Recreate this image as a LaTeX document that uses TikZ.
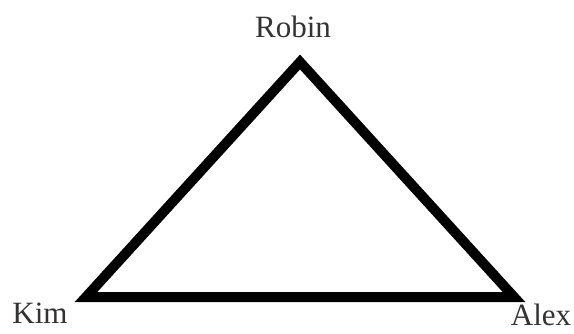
\documentclass[tikz,border=0pt]{standalone}
\usepackage{fontspec}
\setmainfont{Liberation Serif}
\definecolor{labelgray}{HTML}{333333}
\begin{document}
\begin{tikzpicture}[x=1pt,y=-1pt,
  lbl/.style={text=labelgray,font=\fontsize{31}{33}\selectfont,inner sep=0pt,anchor=base},
  edge/.style={line width=10pt,line join=miter,draw=black}]
\useasboundingbox (0,0) rectangle (574,333);
\coordinate (top) at (300,62);
\coordinate (left) at (86,297);
\coordinate (right) at (514,297);
\draw[edge] (top) -- (left) -- (right) -- cycle;
\node[lbl] (robin) at (293,37) {Robin};
\node[lbl] (kim) at (40,323) {Kim};
\node[lbl] (alex) at (541,325) {Alex};
\end{tikzpicture}
\end{document}
